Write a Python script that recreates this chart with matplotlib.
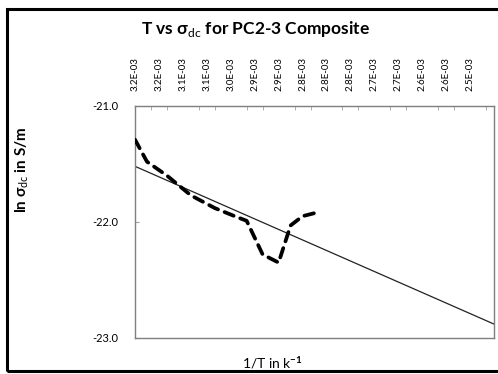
import matplotlib
matplotlib.use("Agg")
import matplotlib.pyplot as plt
from matplotlib.patches import Rectangle
from matplotlib.ticker import FixedLocator

plt.rcParams['font.family'] = ['Lato', 'DejaVu Sans']
plt.rcParams['mathtext.fontset'] = 'custom'
plt.rcParams['mathtext.rm'] = 'Lato'
plt.rcParams['mathtext.bf'] = 'Lato:bold'

# category positions (top axis has one label every 3 categories)
top_labels = ['3.2E-03', '3.2E-03', '3.1E-03', '3.1E-03', '3.0E-03', '2.9E-03', '2.9E-03',
              '2.8E-03', '2.8E-03', '2.8E-03', '2.7E-03', '2.7E-03', '2.6E-03', '2.6E-03', '2.5E-03']
label_pos = [0, 3, 6, 9, 12, 15, 18, 21, 24, 27, 30, 33, 36, 39, 42]

# measured ln(sigma_dc)
x_data = [0, 1.5, 4.0, 7.0, 10.0, 12.5, 14.0, 16.0, 18.0, 19.5, 21.0, 22.7]
y_data = [-21.29, -21.48, -21.60, -21.77, -21.88, -21.95, -21.99, -22.28, -22.35, -22.03, -21.95, -21.92]

# linear trendline end points
trend_x = [0, 45]
trend_y = [-21.52, -22.88]

fig = plt.figure(figsize=(4.98, 3.74), dpi=100)
ax = fig.add_axes([135 / 498, 1 - 338 / 374, 359 / 498, 232 / 374])

ax.plot(trend_x, trend_y, color='#222222', lw=0.9, zorder=2)
ax.plot(x_data, y_data, color='black', lw=2.7, linestyle=(0, (2.6, 1.9)),
        dash_capstyle='round', solid_capstyle='round', zorder=3)

ax.set_xlim(0, 45)
ax.set_ylim(-23.0, -21.0)

# x axis on top: labels every 3 categories, tick marks every 2
ax.xaxis.tick_top()
ax.xaxis.set_major_locator(FixedLocator(label_pos))
ax.set_xticklabels(top_labels, rotation=90, fontsize=7)
ax.xaxis.set_minor_locator(FixedLocator(list(range(2, 45, 2))))
ax.tick_params(axis='x', which='major', length=0, pad=11)
ax.tick_params(axis='x', which='minor', length=3, direction='in', color='#a0a0a0', top=True)

ax.set_yticks([-23.0, -22.0, -21.0])
ax.set_yticklabels(['-23.0', '-22.0', '-21.0'], fontsize=8)
ax.tick_params(axis='y', length=3, direction='in', color='#a0a0a0', pad=12)

for s in ax.spines.values():
    s.set_color('#7f7f7f')
    s.set_linewidth(1.0)

fig.text(256 / 498, 1 - 29 / 374, 'T vs σ$_{\\rm dc}$ for PC2-3 Composite',
         ha='center', va='center', fontsize=12.5, fontweight='bold')
fig.text(22 / 498, 1 - 170 / 374, 'ln σ$_{\\rm dc}$ in S/m', rotation=90,
         ha='center', va='center', fontsize=11, fontweight='bold')
fig.text(272 / 498, 1 - 363 / 374, '1/T in k$^{\\mathbf{-1}}$',
         ha='center', va='center', fontsize=10)

# outer chart border
fig.patches.append(Rectangle((6.5 / 498, 3 / 374), 500 / 498, 362 / 374,
                             transform=fig.transFigure, fill=False,
                             edgecolor='black', lw=2.2))

fig.savefig('out.png', dpi=100)
